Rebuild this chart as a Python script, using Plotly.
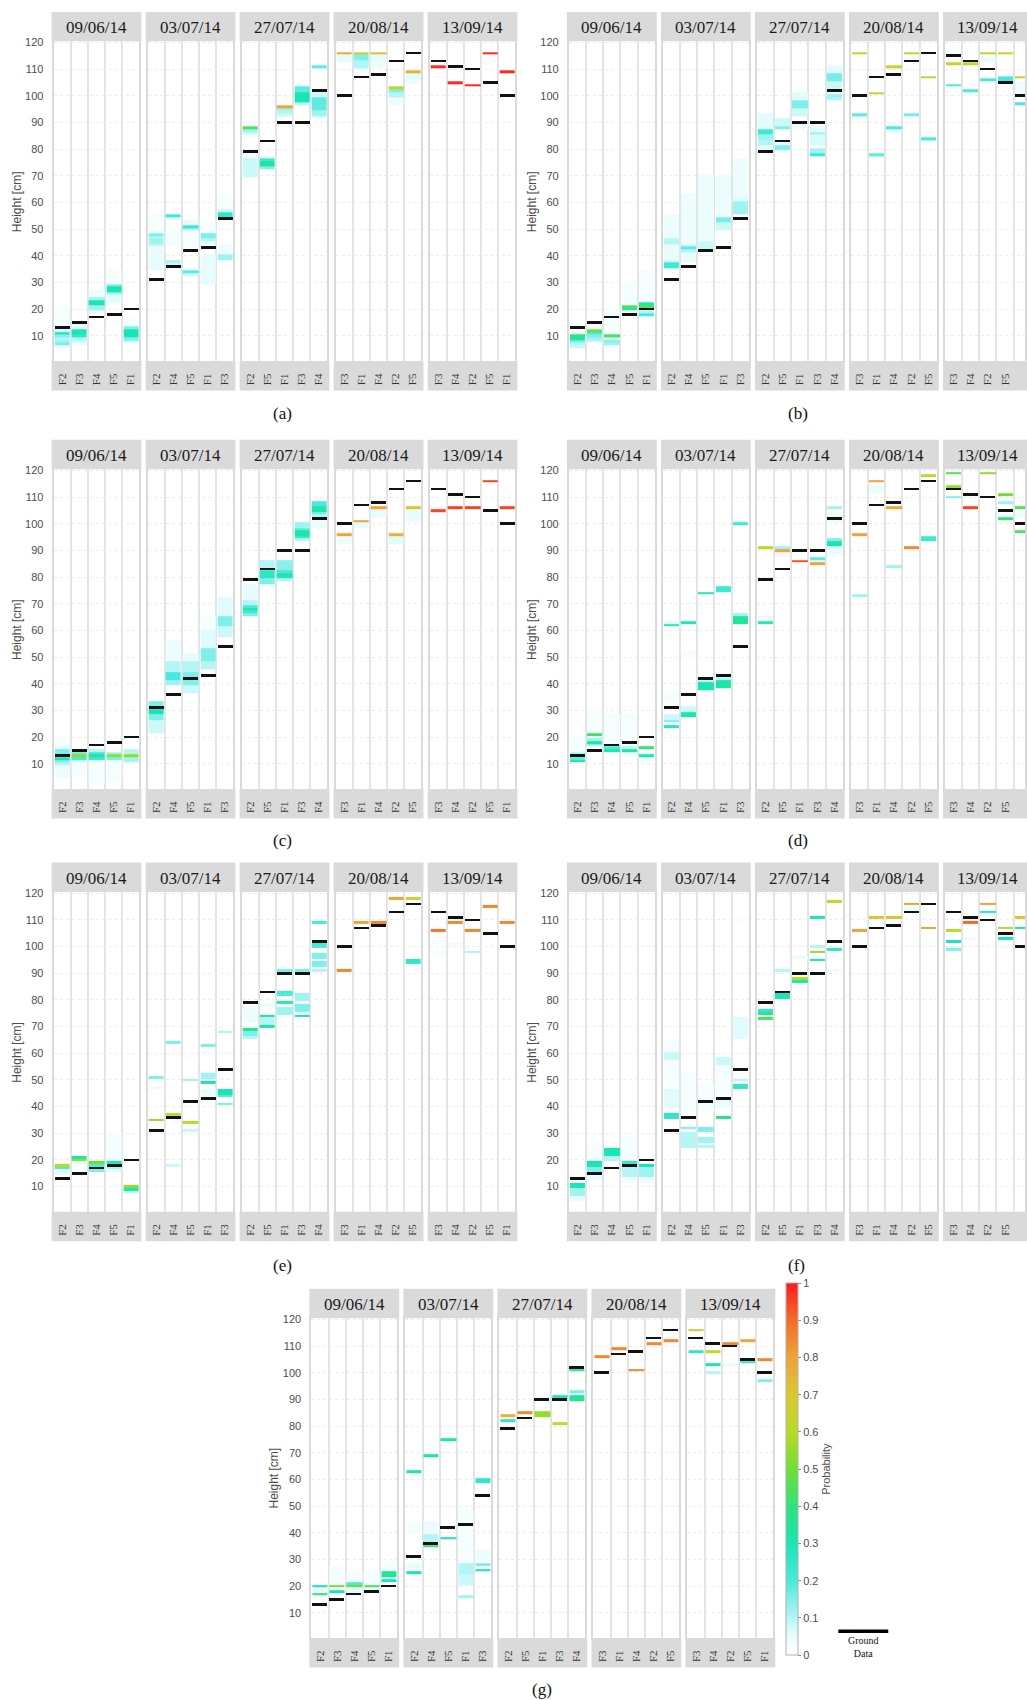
import numpy as np
import plotly.graph_objects as go

# ---------------- data ----------------
DATES = ["09/06/14", "03/07/14", "27/07/14", "20/08/14", "13/09/14"]
FIELD_ORDER = [
    ["F2", "F3", "F4", "F5", "F1"],
    ["F2", "F4", "F5", "F1", "F3"],
    ["F2", "F5", "F1", "F3", "F4"],
    ["F3", "F1", "F4", "F2", "F5"],
    ["F3", "F4", "F2", "F5", "F1"],
]
GROUND = [
    [13, 15, 17, 18, 20],
    [31, 36, 42, 43, 54],
    [79, 83, 90, 90, 102],
    [100, 107, 108, 113, 116],
    [113, 111, 110, 105, 100],
]
GROUND_OVERRIDE = {"b": {(4, 0): 115, (4, 1): 113}}
HEIGHTS = list(range(1, 121))
Y_TICKS = list(range(10, 121, 10))
PROB_TICKS = [i / 10 for i in range(11)]
PROB_TICKTEXT = ["0", "0.1", "0.2", "0.3", "0.4", "0.5", "0.6", "0.7", "0.8", "0.9", "1"]

# each column: list of (height_from, height_to, probability)
PROB_A = [
    [[(11, 11, .30), (12, 12, .08), (10, 10, .15), (9, 9, .10), (8, 8, .12), (7, 7, .15), (6, 6, .05), (14, 20, .03)],
     [(11, 12, .30), (10, 10, .25), (9, 9, .10), (8, 8, .08), (7, 7, .05), (13, 14, .06)],
     [(22, 23, .30), (24, 24, .12), (20, 21, .12), (19, 19, .05), (25, 27, .04)],
     [(27, 28, .30), (29, 29, .15), (26, 26, .12), (23, 25, .06), (30, 35, .03)],
     [(10, 12, .30), (13, 13, .15), (9, 9, .15), (8, 8, .10), (14, 16, .03)]],
    [[(48, 48, .15), (47, 47, .10), (45, 46, .12), (44, 44, .08), (42, 43, .05), (35, 41, .05), (49, 55, .03)],
     [(55, 55, .22), (54, 54, .06), (38, 38, .12), (37, 37, .08), (44, 50, .03)],
     [(51, 51, .22), (50, 50, .12), (52, 53, .05), (34, 34, .18), (33, 33, .08), (35, 35, .06), (43, 48, .03)],
     [(47, 48, .15), (46, 46, .10), (45, 45, .06), (30, 40, .05), (49, 52, .03)],
     [(55, 56, .25), (57, 57, .08), (39, 40, .12), (41, 44, .04), (58, 62, .03)]],
    [[(88, 88, .45), (87, 87, .12), (86, 86, .08), (85, 85, .04), (70, 76, .08), (77, 78, .03)],
     [(74, 74, .38), (75, 75, .30), (76, 76, .22), (73, 73, .15), (77, 77, .05)],
     [(96, 96, .80), (95, 95, .12), (94, 94, .10), (93, 93, .08), (92, 92, .04)],
     [(98, 101, .30), (102, 103, .18), (97, 97, .10), (104, 104, .05)],
     [(111, 111, .18), (110, 110, .04), (95, 99, .18), (93, 94, .12), (92, 92, .06), (100, 101, .08)]],
    [[(116, 116, .78), (113, 115, .05)],
     [(116, 116, .68), (114, 115, .15), (111, 113, .10), (110, 110, .05)],
     [(116, 116, .72), (114, 115, .06), (111, 113, .04)],
     [(103, 103, .65), (102, 102, .15), (100, 101, .10), (97, 99, .04)],
     [(109, 109, .75), (107, 108, .06), (105, 106, .04)]],
    [[(111, 111, .98)], [(105, 105, .98)], [(104, 104, .98)], [(116, 116, .98)], [(109, 109, .98)]],
]

PROB_B = [
    [[(10, 10, .42), (9, 9, .30), (8, 8, .15), (7, 7, .10), (6, 6, .08), (11, 11, .06)],
     [(12, 12, .48), (11, 11, .20), (10, 10, .15), (9, 9, .12), (8, 8, .08)],
     [(10, 10, .45), (8, 8, .15), (7, 7, .12), (9, 9, .08), (11, 16, .03), (18, 20, .03)],
     [(21, 21, .45), (20, 20, .32), (22, 30, .03)],
     [(21, 21, .45), (22, 22, .30), (18, 18, .20), (19, 19, .10), (23, 34, .03)]],
    [[(36, 37, .22), (38, 38, .08), (45, 46, .10), (39, 44, .05), (47, 55, .04)],
     [(43, 43, .18), (42, 42, .10), (44, 44, .08), (38, 41, .05), (45, 63, .04)],
     [(43, 45, .08), (46, 70, .04)],
     [(53, 54, .16), (50, 52, .08), (55, 70, .04)],
     [(56, 60, .12), (61, 62, .06), (63, 76, .04)]],
    [[(86, 87, .22), (84, 85, .12), (82, 83, .10), (80, 81, .06), (88, 93, .06)],
     [(88, 88, .15), (80, 81, .15), (89, 91, .08), (82, 82, .06)],
     [(96, 98, .15), (93, 95, .08), (99, 101, .06), (88, 89, .04)],
     [(78, 78, .22), (79, 80, .12), (86, 86, .12), (82, 85, .07), (87, 88, .06)],
     [(106, 108, .16), (100, 100, .12), (99, 99, .10), (103, 105, .08), (109, 111, .06), (101, 101, .05)]],
    [[(116, 116, .65), (93, 93, .18), (92, 92, .05)],
     [(101, 101, .65), (78, 78, .18), (77, 77, .05)],
     [(111, 111, .65), (88, 88, .20), (87, 87, .06)],
     [(116, 116, .65), (93, 93, .16), (114, 114, .04)],
     [(107, 107, .65), (84, 84, .20), (83, 83, .06)]],
    [[(112, 112, .65), (104, 104, .20)],
     [(112, 112, .65), (102, 102, .20)],
     [(116, 116, .65), (106, 106, .20), (113, 114, .05)],
     [(116, 116, .65), (106, 107, .20)],
     [(107, 107, .65), (97, 97, .20), (101, 105, .04)]],
]

PROB_C = [
    [[(12, 12, .28), (11, 11, .15), (14, 15, .15), (10, 10, .10), (16, 16, .06), (5, 9, .04), (17, 20, .03)],
     [(13, 13, .55), (12, 12, .20), (14, 14, .18), (11, 11, .08), (6, 10, .03)],
     [(13, 13, .32), (12, 12, .22), (14, 14, .20), (15, 15, .10), (3, 11, .03)],
     [(13, 13, .55), (12, 12, .15), (14, 14, .12), (4, 11, .03)],
     [(13, 13, .55), (11, 12, .12), (14, 15, .10)]],
    [[(29, 30, .30), (31, 33, .15), (27, 28, .15), (22, 26, .08)],
     [(42, 44, .20), (40, 41, .12), (45, 48, .10), (49, 56, .04)],
     [(40, 44, .15), (45, 48, .10), (37, 39, .08), (49, 51, .05)],
     [(49, 53, .15), (46, 48, .10), (54, 60, .06), (61, 65, .03)],
     [(62, 65, .15), (58, 61, .08), (66, 72, .06)]],
    [[(68, 68, .32), (67, 67, .22), (69, 69, .20), (66, 66, .15), (70, 71, .10), (72, 77, .05)],
     [(80, 82, .26), (78, 79, .15), (84, 86, .10), (77, 77, .05)],
     [(81, 81, .32), (80, 80, .28), (82, 82, .20), (83, 86, .14), (79, 79, .10)],
     [(96, 97, .32), (95, 95, .22), (98, 98, .18), (99, 100, .12), (94, 94, .10)],
     [(105, 106, .32), (107, 108, .20), (104, 104, .15), (103, 103, .10), (99, 101, .04)]],
    [[(96, 96, .80), (93, 95, .04)],
     [(101, 101, .80), (99, 100, .05)],
     [(106, 106, .80), (103, 105, .05)],
     [(96, 96, .75), (93, 95, .06)],
     [(106, 106, .70), (101, 105, .05)]],
    [[(105, 105, .95)], [(106, 106, .95)], [(106, 106, .95)], [(116, 116, .95)], [(106, 106, .95)]],
]

PROB_D = [
    [[(11, 11, .32), (12, 12, .18), (13, 14, .10), (15, 20, .03)],
     [(21, 21, .42), (18, 18, .32), (17, 17, .12), (19, 19, .12), (22, 30, .03)],
     [(15, 15, .32), (16, 16, .20), (18, 28, .03)],
     [(15, 15, .32), (14, 14, .06), (16, 16, .10), (19, 28, .03)],
     [(16, 16, .42), (13, 13, .32), (11, 12, .04), (14, 14, .05)]],
    [[(62, 62, .28), (24, 24, .28), (26, 26, .15), (27, 28, .08), (63, 63, .06), (34, 36, .03)],
     [(63, 63, .28), (28, 29, .32), (30, 31, .08), (50, 52, .03)],
     [(74, 74, .28), (38, 40, .30), (41, 41, .10)],
     [(75, 76, .22), (39, 41, .32), (42, 42, .10)],
     [(63, 65, .35), (66, 66, .12), (100, 100, .22), (101, 101, .05)]],
    [[(91, 91, .62), (63, 63, .28), (65, 65, .06)],
     [(90, 90, .80), (91, 91, .12), (88, 89, .04)],
     [(86, 86, .92), (85, 85, .04)],
     [(85, 85, .80), (87, 87, .18), (86, 86, .05)],
     [(92, 93, .32), (94, 94, .15), (106, 106, .12), (89, 91, .05), (101, 104, .04)]],
    [[(96, 96, .80), (73, 73, .12)],
     [(116, 116, .80), (112, 114, .04)],
     [(106, 106, .80), (84, 84, .12)],
     [(91, 91, .85)],
     [(118, 118, .65), (94, 95, .22)]],
    [[(119, 119, .45), (114, 114, .55), (110, 110, .15)],
     [(106, 106, .95)],
     [(119, 119, .55)],
     [(111, 111, .50), (108, 108, .12), (102, 102, .40)],
     [(106, 106, .45), (97, 97, .45), (103, 104, .05)]],
]

PROB_E = [
    [[(18, 18, .60), (17, 17, .20), (15, 16, .05)],
     [(21, 21, .32), (20, 20, .55), (19, 19, .06)],
     [(19, 19, .50), (18, 18, .20), (16, 16, .15)],
     [(19, 19, .30), (17, 17, .10), (16, 16, .06), (20, 30, .03)],
     [(10, 10, .55), (9, 9, .30), (8, 8, .10)]],
    [[(35, 35, .55), (51, 51, .15), (47, 47, .05)],
     [(37, 37, .65), (64, 64, .15), (18, 18, .08), (44, 44, .03)],
     [(34, 34, .60), (50, 50, .12), (31, 31, .08), (59, 59, .03)],
     [(49, 49, .32), (51, 52, .12), (63, 63, .15), (44, 46, .05)],
     [(45, 46, .30), (44, 44, .20), (41, 41, .15), (68, 68, .10), (60, 60, .04)]],
    [[(69, 69, .35), (67, 68, .15), (66, 66, .10), (72, 77, .04)],
     [(74, 74, .32), (70, 70, .32), (71, 73, .10), (78, 78, .05)],
     [(91, 91, .15), (79, 79, .28), (82, 83, .20), (75, 77, .12)],
     [(91, 91, .15), (74, 74, .30), (76, 78, .15), (80, 82, .12)],
     [(109, 109, .20), (100, 101, .20), (96, 97, .15), (93, 94, .15), (91, 91, .10)]],
    [[(91, 91, .85)],
     [(109, 109, .80)],
     [(109, 109, .85)],
     [(118, 118, .80)],
     [(118, 118, .65), (94, 95, .25)]],
    [[(106, 106, .88), (97, 98, .03)],
     [(109, 109, .85), (101, 101, .04)],
     [(106, 106, .85), (98, 98, .10)],
     [(115, 115, .85)],
     [(109, 109, .85)]],
]

PROB_F = [
    [[(10, 11, .30), (7, 9, .12), (5, 6, .05)],
     [(18, 19, .30), (16, 17, .15), (13, 14, .05), (20, 26, .03)],
     [(22, 24, .30), (20, 21, .10)],
     [(19, 19, .25), (14, 17, .10), (12, 13, .04), (20, 28, .03)],
     [(18, 18, .30), (14, 17, .12), (12, 13, .04)]],
    [[(36, 37, .25), (58, 60, .08), (40, 46, .06), (50, 57, .03), (61, 64, .03)],
     [(32, 32, .15), (25, 30, .10), (38, 52, .03)],
     [(31, 32, .15), (27, 28, .12), (25, 25, .10), (26, 26, .06), (39, 48, .03)],
     [(36, 36, .38), (56, 58, .08), (40, 42, .04), (46, 55, .03)],
     [(47, 48, .25), (50, 50, .10), (66, 73, .06), (110, 110, .03)]],
    [[(75, 75, .35), (76, 76, .25), (73, 73, .45)],
     [(81, 82, .30), (91, 91, .10)],
     [(88, 88, .60), (87, 87, .30), (96, 96, .05)],
     [(111, 111, .30), (100, 100, .10), (98, 98, .55), (95, 95, .30)],
     [(117, 117, .60), (99, 99, .25), (91, 91, .04)]],
    [[(106, 106, .80)],
     [(111, 111, .70)],
     [(111, 111, .70), (110, 110, .05)],
     [(116, 116, .80), (114, 114, .05)],
     [(107, 107, .80)]],
    [[(106, 106, .60), (102, 102, .30), (99, 99, .15)],
     [(109, 109, .90), (103, 103, .04)],
     [(116, 116, .80), (113, 113, .25), (112, 112, .04)],
     [(107, 107, .60), (103, 103, .30), (100, 100, .04)],
     [(111, 111, .70), (107, 107, .30)]],
]

PROB_G = [
    [[(20, 20, .30), (17, 17, .42), (18, 19, .05)],
     [(20, 20, .50), (18, 18, .30), (21, 27, .03)],
     [(20, 20, .50), (21, 21, .20), (18, 19, .05), (22, 25, .03)],
     [(20, 20, .45), (19, 19, .05), (21, 25, .03)],
     [(24, 25, .35), (22, 22, .30), (23, 23, .06), (26, 29, .03)]],
    [[(63, 63, .30), (25, 25, .30), (27, 28, .05), (40, 44, .03)],
     [(69, 69, .30), (35, 35, .40), (37, 39, .10), (40, 44, .04)],
     [(75, 75, .30), (38, 38, .30)],
     [(25, 28, .10), (21, 24, .08), (16, 16, .12), (29, 48, .03)],
     [(59, 60, .25), (26, 26, .30), (28, 28, .15), (30, 33, .04)]],
    [[(84, 84, .75), (82, 82, .25)],
     [(85, 85, .85)],
     [(84, 85, .55), (91, 91, .04)],
     [(81, 81, .65), (91, 91, .30)],
     [(101, 101, .35), (90, 91, .35), (93, 93, .15), (92, 92, .06)]],
    [[(106, 106, .85)], [(109, 109, .85)], [(101, 101, .85)], [(111, 111, .85)], [(112, 112, .85)]],
    [[(116, 116, .65), (108, 108, .25)],
     [(108, 108, .60), (103, 103, .30), (100, 100, .10)],
     [(111, 111, .85), (103, 103, .04)],
     [(112, 112, .80), (104, 104, .25)],
     [(105, 105, .85), (97, 97, .15)]],
]

PANELS = ["a", "b", "c", "d", "e", "f", "g"]
PANEL_PROBS = {"a": PROB_A, "b": PROB_B, "c": PROB_C, "d": PROB_D,
               "e": PROB_E, "f": PROB_F, "g": PROB_G}

# ---------------- layout geometry (pixels) ----------------
W, H = 1027, 1700
PANEL_POS = {"a": (51.7, 36.4), "b": (568.0, 36.4), "c": (51.7, 465.5), "d": (568.0, 465.5),
             "e": (51.7, 889.5), "f": (568.0, 889.5), "g": (310.0, 1317.0)}
LABEL_POS = {"a": (283, 410), "b": (800, 410), "c": (283, 838), "d": (800, 838),
             "e": (283, 1264), "f": (798, 1264), "g": (543, 1689)}
YTITLE_X = {"a": 17, "b": 533, "c": 17, "d": 533, "e": 17, "f": 533, "g": 275}
PITCH, FW, BORDER, PH, STRIP_T, STRIP_B = 94.2, 90.0, 2.0, 320.8, 29.5, 29.5

COLORSCALE = [
    [0.0, "#ffffff"], [0.03, "#f4fefe"], [0.06, "#e0fcfc"], [0.1, "#b4f6f6"],
    [0.15, "#7ef0ea"], [0.2, "#48eadc"], [0.3, "#18e6b4"], [0.4, "#2ce47c"],
    [0.5, "#6ee032"], [0.6, "#b6dc26"], [0.7, "#dcc62e"], [0.8, "#eea436"],
    [0.9, "#f66a28"], [1.0, "#ff1a1a"],
]
STRIP_COLOR = "#dadada"
SERIF = "Liberation Serif, Times New Roman, serif"
SANS = "Liberation Sans, Arial, sans-serif"


def px(x):
    return x / W


def py(y):
    return 1 - y / H


fig = go.Figure()
layout = {}
shapes = []
annotations = []
idx = 0
for p in PANELS:
    L, T = PANEL_POS[p]
    probs = PANEL_PROBS[p]
    for k in range(5):
        idx += 1
        xa = "x" if idx == 1 else f"x{idx}"
        ya = "y" if idx == 1 else f"y{idx}"
        bx0 = L + k * PITCH
        bx1 = bx0 + FW
        px0, px1 = bx0 + BORDER, bx1 - BORDER
        vis1 = min(px1, W)
        xr_hi = -0.5 + (vis1 - px0) * 5.0 / (px1 - px0)

        z = np.full((len(HEIGHTS), 5), np.nan)
        for c, blocks in enumerate(probs[k]):
            for lo, hi, pr in blocks:
                for h in range(lo, hi + 1):
                    cur = z[h - 1, c]
                    z[h - 1, c] = pr if np.isnan(cur) else max(cur, pr)
        fig.add_trace(go.Heatmap(x=list(range(5)), y=HEIGHTS, z=z, coloraxis="coloraxis",
                                 xgap=2, ygap=0, hoverinfo="skip", xaxis=xa, yaxis=ya))
        ground = [GROUND_OVERRIDE.get(p, {}).get((k, c), GROUND[k][c]) for c in range(5)]
        fig.add_trace(go.Bar(x=list(range(5)), y=[1] * 5, base=[g - 0.5 for g in ground],
                             width=0.88, marker=dict(color="#111111", line=dict(width=0)),
                             hoverinfo="skip", showlegend=False, xaxis=xa, yaxis=ya))

        layout["xaxis" if idx == 1 else f"xaxis{idx}"] = dict(
            domain=[px(px0), px(vis1)], anchor=ya, range=[-0.5, xr_hi],
            tickmode="array", tickvals=list(range(5)), ticktext=FIELD_ORDER[k],
            tickangle=-90, tickfont=dict(family=SERIF, size=11, color="#333333"),
            ticks="", ticklabelstandoff=6, showgrid=False, zeroline=False,
            showline=True, mirror=True, linecolor=STRIP_COLOR, linewidth=2,
            minor=dict(tickmode="array", tickvals=[0.5, 1.5, 2.5, 3.5], showgrid=True,
                       gridcolor="#e4e4e4", gridwidth=2, ticks=""),
            fixedrange=True)
        layout["yaxis" if idx == 1 else f"yaxis{idx}"] = dict(
            domain=[py(T + PH), py(T)], anchor=xa, range=[0.5, 120.5],
            tickmode="array", tickvals=Y_TICKS, showticklabels=(k == 0),
            tickfont=dict(family=SANS, size=11, color="#4d4d4d"),
            ticks="", ticklabelstandoff=6, showgrid=True, gridcolor="#ececec",
            griddash="dot", gridwidth=1, zeroline=False,
            showline=True, mirror=True, linecolor=STRIP_COLOR, linewidth=2,
            fixedrange=True)

        shapes.append(dict(type="rect", xref="paper", yref="paper", layer="below",
                           x0=px(bx0), x1=px(bx1), y0=py(T - STRIP_T), y1=py(T),
                           fillcolor=STRIP_COLOR, line=dict(width=0)))
        shapes.append(dict(type="rect", xref="paper", yref="paper", layer="below",
                           x0=px(bx0), x1=px(bx1), y0=py(T + PH + STRIP_B), y1=py(T + PH),
                           fillcolor=STRIP_COLOR, line=dict(width=0)))
        annotations.append(dict(text=DATES[k], xref="paper", yref="paper",
                                x=px((bx0 + bx1) / 2), y=py(T - STRIP_T / 2 + 1),
                                xanchor="center", yanchor="middle", showarrow=False,
                                font=dict(family=SERIF, size=17, color="#1a1a1a")))
    annotations.append(dict(text="Height [cm]", xref="paper", yref="paper",
                            x=px(YTITLE_X[p]), y=py(T + PH / 2), textangle=-90,
                            xanchor="center", yanchor="middle", showarrow=False,
                            font=dict(family=SANS, size=12, color="#4d4d4d")))
    lx, ly = LABEL_POS[p]
    annotations.append(dict(text=f"({p})", xref="paper", yref="paper", x=px(lx), y=py(ly),
                            xanchor="center", yanchor="middle", showarrow=False,
                            font=dict(family=SERIF, size=17, color="#111111")))

# ground data legend
shapes.append(dict(type="line", xref="paper", yref="paper", x0=px(840), x1=px(890),
                   y0=py(1631), y1=py(1631), line=dict(color="#000000", width=3.5)))
annotations.append(dict(text="Ground<br>Data", xref="paper", yref="paper", x=px(865), y=py(1647),
                        xanchor="center", yanchor="middle", showarrow=False,
                        font=dict(family=SERIF, size=10, color="#111111")))

layout.update(dict(
    width=W, height=H, margin=dict(l=0, r=0, t=0, b=0),
    paper_bgcolor="white", plot_bgcolor="white", showlegend=False,
    bargap=0, shapes=shapes, annotations=annotations,
    coloraxis=dict(
        colorscale=COLORSCALE, cmin=0, cmax=1,
        colorbar=dict(x=px(788), xanchor="left", xpad=0, y=py(1655), yanchor="bottom", ypad=0,
                      lenmode="pixels", len=372, thicknessmode="pixels", thickness=12,
                      outlinewidth=1, outlinecolor="#b0b0b0",
                      tickmode="array", tickvals=PROB_TICKS, ticktext=PROB_TICKTEXT,
                      ticks="outside", ticklen=3, tickcolor="#888888",
                      tickfont=dict(family=SANS, size=11, color="#4d4d4d"),
                      title=dict(text="Probability", side="right",
                                 font=dict(family=SANS, size=11, color="#4d4d4d"))),
    ),
))
fig.update_layout(**layout)

fig.write_html("out.html", config={"displayModeBar": False},
               post_script="document.body.style.margin='0';document.body.style.overflow='hidden';")
